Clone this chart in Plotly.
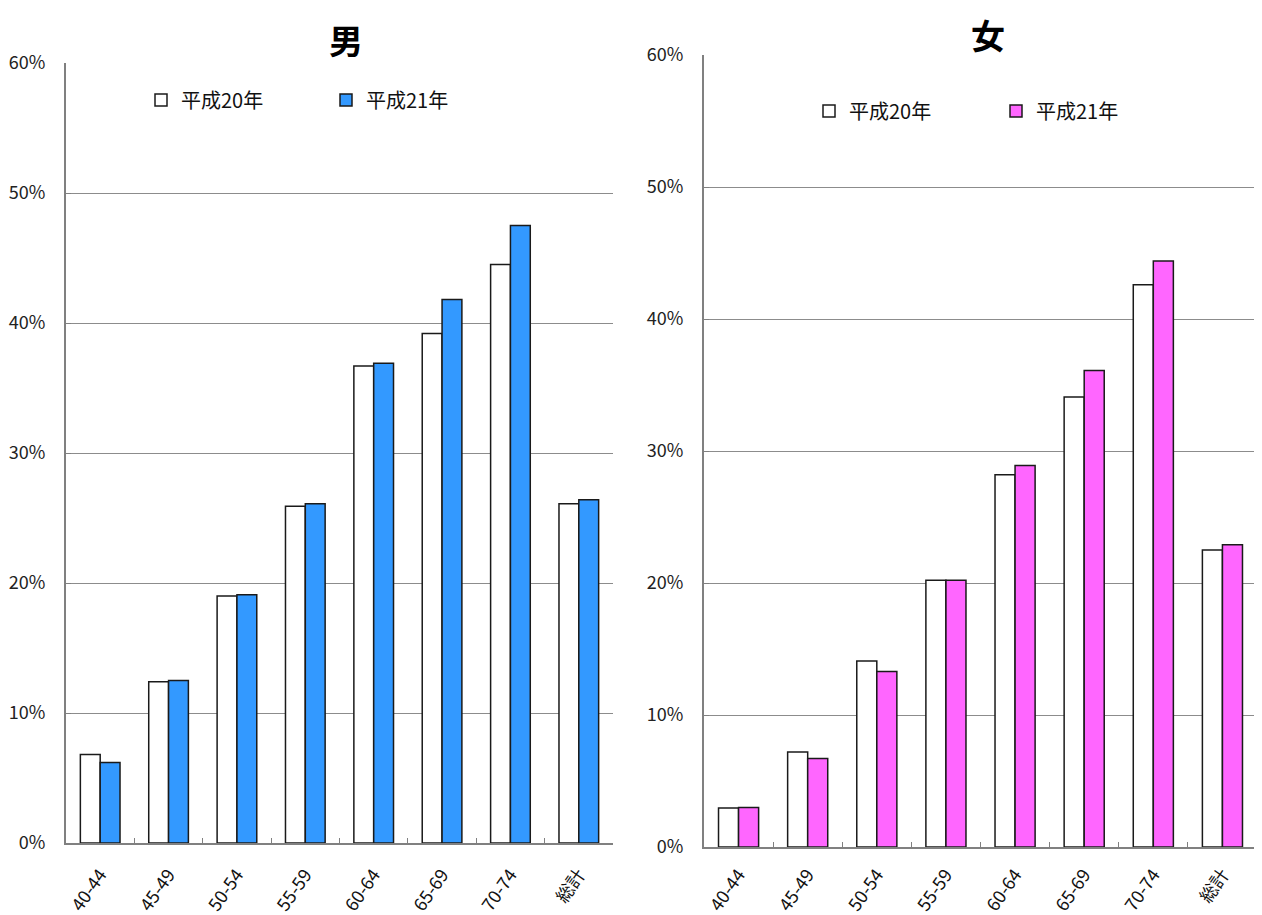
import plotly.graph_objects as go

categories = ["40-44", "45-49", "50-54", "55-59", "60-64", "65-69", "70-74", "総計"]
male_h20 = [6.8, 12.4, 19.0, 25.9, 36.7, 39.2, 44.5, 26.1]
male_h21 = [6.2, 12.5, 19.1, 26.1, 36.9, 41.8, 47.5, 26.4]
female_h20 = [2.95, 7.2, 14.1, 20.2, 28.2, 34.1, 42.6, 22.5]
female_h21 = [3.0, 6.7, 13.3, 20.2, 28.9, 36.1, 44.4, 22.9]
series_names = ["平成20年", "平成21年"]
titles = ["男", "女"]

FONT = "Noto Sans CJK JP"
line = dict(color="#1a1a1a", width=1.5)

fig = go.Figure()
fig.add_trace(go.Bar(x=categories, y=[v / 100 for v in male_h20], name=series_names[0],
                     marker=dict(color="white", line=line), xaxis="x", yaxis="y", legend="legend"))
fig.add_trace(go.Bar(x=categories, y=[v / 100 for v in male_h21], name=series_names[1],
                     marker=dict(color="#3399ff", line=line), xaxis="x", yaxis="y", legend="legend"))
fig.add_trace(go.Bar(x=categories, y=[v / 100 for v in female_h20], name=series_names[0],
                     marker=dict(color="white", line=line), xaxis="x2", yaxis="y2", legend="legend2"))
fig.add_trace(go.Bar(x=categories, y=[v / 100 for v in female_h21], name=series_names[1],
                     marker=dict(color="#ff66ff", line=line), xaxis="x2", yaxis="y2", legend="legend2"))

xcommon = dict(type="category", range=[-0.5, 7.5], showline=True, linecolor="#808080", linewidth=2,
               ticks="inside", tickson="boundaries", ticklen=5, tickcolor="#808080",
               tickangle=-55, tickfont=dict(size=18, color="#111", family=FONT), showgrid=False,
               automargin=False)
ycommon = dict(range=[0, 0.6], dtick=0.1, tickformat=".0%", showline=True, linecolor="#808080",
               linewidth=2, showgrid=True, gridcolor="#8c8c8c", gridwidth=1, ticks="inside",
               ticklen=5, tickcolor="#808080", tickfont=dict(size=18, color="#222", family=FONT),
               zeroline=False, ticklabelstandoff=15, automargin=False)

# page is offset by the 8px body margin
OFF = 8
W, H = 1262 - OFF, 915 - OFF


def px_x(x):
    return (x - OFF) / W


def px_y(y):
    return 1 - (y - OFF) / H


fig.update_layout(
    width=W, height=H,
    margin=dict(l=0, r=0, t=0, b=0, autoexpand=False),
    paper_bgcolor="white", plot_bgcolor="white",
    font=dict(family=FONT, color="#111"),
    barmode="group", bargap=0.42, bargroupgap=0,
    xaxis=dict(domain=[px_x(66), px_x(613)], anchor="y", ticklabelstandoff=12, **xcommon),
    yaxis=dict(domain=[px_y(843), px_y(63)], anchor="x", **ycommon),
    xaxis2=dict(domain=[px_x(704), px_x(1257)], anchor="y2", ticklabelstandoff=8, **xcommon),
    yaxis2=dict(domain=[px_y(847), px_y(55)], anchor="x2", **ycommon),
    legend=dict(orientation="h", x=px_x(141), y=px_y(100), xanchor="left", yanchor="middle",
                entrywidth=140, entrywidthmode="pixels", itemwidth=30,
                font=dict(size=20, family=FONT, color="#111"), bgcolor="rgba(0,0,0,0)"),
    legend2=dict(orientation="h", x=px_x(809), y=px_y(111), xanchor="left", yanchor="middle",
                 entrywidth=142, entrywidthmode="pixels", itemwidth=30,
                 font=dict(size=20, family=FONT, color="#111"), bgcolor="rgba(0,0,0,0)"),
    annotations=[
        dict(text="<b>" + titles[0] + "</b>", x=px_x(346), y=1 - 5 / H, xref="paper", yref="paper",
             showarrow=False, font=dict(size=34, family=FONT, color="black"), xanchor="center", yanchor="top"),
        dict(text="<b>" + titles[1] + "</b>", x=px_x(988), y=1, xref="paper", yref="paper",
             showarrow=False, font=dict(size=34, family=FONT, color="black"), xanchor="center", yanchor="top"),
    ],
)

fig.write_html("out.html")
